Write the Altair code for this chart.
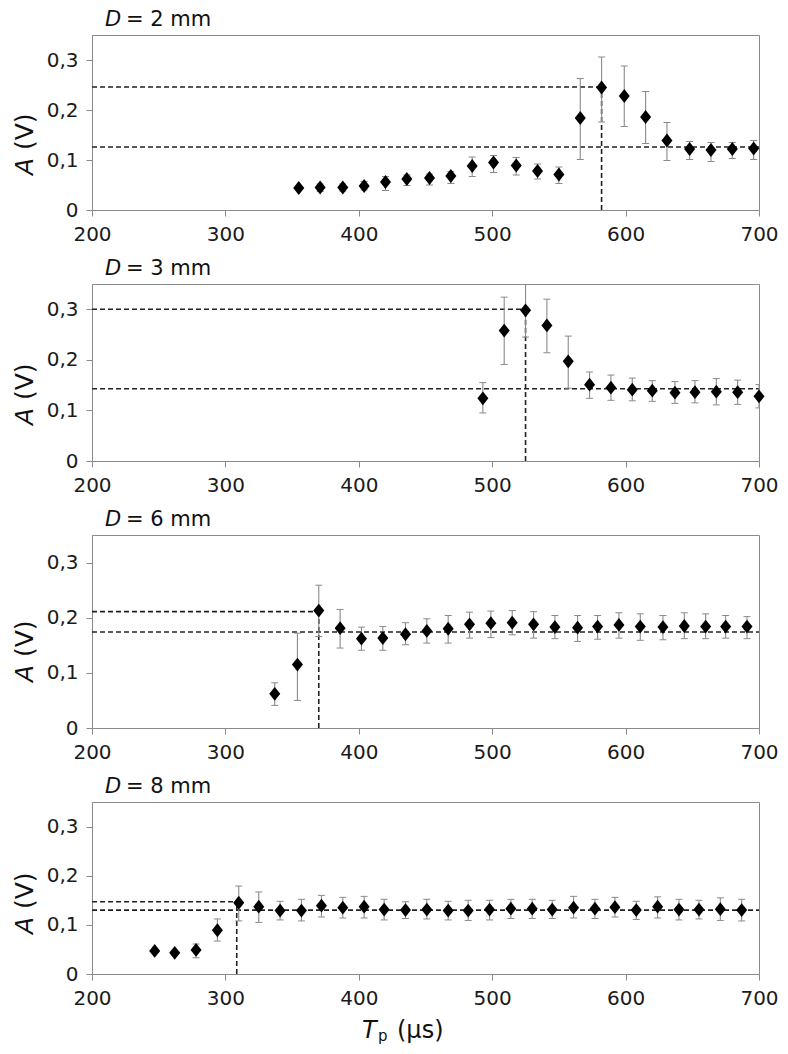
import altair as alt
import pandas as pd

# ---------------- data ----------------
diam_mm = [2, 3, 6, 8]

x1 = [355, 371, 388, 404, 420, 436, 453, 469, 485, 501, 518, 534, 550, 566, 582, 599, 615, 631, 648, 664, 680, 696]
a1 = [0.044, 0.045, 0.045, 0.048, 0.056, 0.062, 0.064, 0.068, 0.088, 0.095, 0.089, 0.078, 0.071, 0.184, 0.245, 0.228, 0.186, 0.139, 0.122, 0.120, 0.122, 0.123]
lo1 = [0.040, 0.037, 0.038, 0.040, 0.039, 0.049, 0.050, 0.053, 0.067, 0.075, 0.070, 0.062, 0.053, 0.101, 0.176, 0.167, 0.133, 0.099, 0.101, 0.097, 0.103, 0.101]
hi1 = [0.048, 0.052, 0.052, 0.057, 0.067, 0.070, 0.072, 0.077, 0.106, 0.109, 0.105, 0.092, 0.086, 0.263, 0.306, 0.288, 0.237, 0.175, 0.137, 0.135, 0.135, 0.139]

x2 = [493, 509, 525, 541, 557, 573, 589, 605, 620, 637, 652, 668, 684, 700]
a2 = [0.124, 0.258, 0.298, 0.268, 0.197, 0.151, 0.145, 0.141, 0.139, 0.135, 0.136, 0.137, 0.136, 0.128]
lo2 = [0.095, 0.191, 0.245, 0.214, 0.144, 0.124, 0.120, 0.119, 0.118, 0.114, 0.115, 0.111, 0.112, 0.105]
hi2 = [0.155, 0.324, 0.370, 0.320, 0.247, 0.176, 0.170, 0.164, 0.159, 0.157, 0.159, 0.163, 0.160, 0.151]

x3 = [337, 354, 370, 386, 402, 418, 435, 451, 467, 483, 499, 515, 531, 547, 564, 579, 595, 611, 628, 644, 660, 675, 691]
a3 = [0.062, 0.115, 0.213, 0.181, 0.162, 0.163, 0.170, 0.176, 0.180, 0.188, 0.190, 0.191, 0.188, 0.183, 0.182, 0.184, 0.187, 0.184, 0.183, 0.185, 0.184, 0.184, 0.184]
lo3 = [0.041, 0.050, 0.166, 0.145, 0.141, 0.141, 0.151, 0.154, 0.154, 0.163, 0.164, 0.169, 0.163, 0.162, 0.157, 0.161, 0.163, 0.159, 0.160, 0.162, 0.162, 0.163, 0.162]
hi3 = [0.082, 0.172, 0.259, 0.215, 0.183, 0.184, 0.191, 0.198, 0.204, 0.210, 0.212, 0.213, 0.211, 0.204, 0.204, 0.204, 0.209, 0.207, 0.204, 0.209, 0.207, 0.204, 0.202]

x4 = [247, 262, 278, 294, 310, 325, 341, 357, 372, 388, 404, 419, 435, 451, 467, 482, 498, 514, 530, 545, 561, 577, 592, 608, 624, 640, 655, 671, 687]
a4 = [0.047, 0.043, 0.049, 0.089, 0.145, 0.137, 0.129, 0.129, 0.139, 0.135, 0.137, 0.131, 0.130, 0.131, 0.129, 0.129, 0.131, 0.133, 0.133, 0.131, 0.135, 0.133, 0.136, 0.130, 0.137, 0.131, 0.131, 0.132, 0.130]
lo4 = [0.043, 0.039, 0.033, 0.067, 0.108, 0.105, 0.110, 0.108, 0.116, 0.114, 0.114, 0.110, 0.113, 0.112, 0.110, 0.109, 0.110, 0.113, 0.113, 0.113, 0.114, 0.113, 0.116, 0.111, 0.114, 0.110, 0.112, 0.109, 0.108]
hi4 = [0.051, 0.047, 0.061, 0.112, 0.179, 0.167, 0.148, 0.152, 0.160, 0.156, 0.158, 0.152, 0.147, 0.152, 0.148, 0.150, 0.150, 0.152, 0.152, 0.150, 0.158, 0.152, 0.156, 0.148, 0.157, 0.152, 0.150, 0.155, 0.152]

# guide lines: x of peak, A of peak, plateau level
peak_x = [582, 525, 370, 308.5]
peak_a = [0.246, 0.300, 0.211, 0.147]
plateau = [0.126, 0.143, 0.174, 0.130]

x_ticks = [200, 300, 400, 500, 600, 700]
y_ticks = [0, 0.1, 0.2, 0.3]

# ---------------- style ----------------
FONT = "DejaVu Sans"
GRAY = "#8a8a8a"
DIAMOND = "M-0.8,0L0,-1L0.8,0L0,1Z"

widths = [667, 667, 667, 667]
heights = [175, 177, 193, 172]
ytitle_pos = [140, 141, 147, 132]


def panel(i, x, a, lo, hi, last=False):
    w, h = widths[i], heights[i]
    df = pd.DataFrame({"x": x, "a": a, "lo": lo, "hi": hi})
    xs = alt.Scale(domain=[200, 700], nice=False, zero=False)
    ys = alt.Scale(domain=[0, 0.35], nice=False)
    xax = alt.Axis(values=x_ticks, title=None, grid=False, labelFlush=False,
                   labelOverlap=False, format="d")
    yax = alt.Axis(values=y_ticks, title=None, grid=False, labelFlush=False,
                   labelOverlap=False,
                   labelExpr="datum.value == 0 ? '0' : replace(format(datum.value, '.1f'), '.', ',')")

    base = alt.Chart(df)
    stems = base.mark_rule(color=GRAY, strokeWidth=1.1, clip=True).encode(
        x=alt.X("x:Q", scale=xs, axis=xax),
        y=alt.Y("lo:Q", scale=ys, axis=yax),
        y2="hi:Q",
    )
    cap_hi = base.mark_tick(orient="horizontal", size=7, thickness=1, color=GRAY,
                            clip=True, opacity=1).encode(x="x:Q", y="hi:Q")
    cap_lo = base.mark_tick(orient="horizontal", size=7, thickness=1, color=GRAY,
                            clip=True, opacity=1).encode(x="x:Q", y="lo:Q")
    pts = base.mark_point(shape=DIAMOND, filled=True, color="black", size=190,
                          opacity=1, strokeWidth=0).encode(x="x:Q", y="a:Q")

    hdf = pd.DataFrame({"x1": [200, 200], "x2": [peak_x[i], 700],
                        "y": [peak_a[i], plateau[i]]})
    hl = alt.Chart(hdf).mark_rule(strokeDash=[5, 3], strokeWidth=1.6, color="#222").encode(
        x="x1:Q", x2="x2:Q", y="y:Q")
    vdf = pd.DataFrame({"x": [peak_x[i]], "y1": [0], "y2": [peak_a[i]]})
    vl = alt.Chart(vdf).mark_rule(strokeDash=[5, 3], strokeWidth=1.6, color="#222").encode(
        x="x:Q", y="y1:Q", y2="y2:Q")

    tdf = pd.DataFrame({"d": ["D"], "rest": [f"= {diam_mm[i]} mm"]})
    t1 = alt.Chart(tdf).mark_text(font=FONT, fontSize=21, fontStyle="italic",
                                  align="left", baseline="alphabetic", color="#111").encode(
        text="d:N", x=alt.value(13), y=alt.value(-9))
    t2 = alt.Chart(tdf).mark_text(font=FONT, fontSize=21, align="left",
                                  baseline="alphabetic", color="#111").encode(
        text="rest:N", x=alt.value(34), y=alt.value(-9))

    ydf = pd.DataFrame({"a": ["A"], "v": ["(V)"]})
    ya = alt.Chart(ydf).mark_text(font=FONT, fontSize=25, fontStyle="italic", angle=270,
                                  align="left", baseline="alphabetic", color="#111").encode(
        text="a:N", x=alt.value(-59), y=alt.value(ytitle_pos[i]))
    yv = alt.Chart(ydf).mark_text(font=FONT, fontSize=25, angle=270,
                                  align="left", baseline="alphabetic", color="#111").encode(
        text="v:N", x=alt.value(-59), y=alt.value(ytitle_pos[i] - 25))

    layers = [hl, vl, stems, cap_hi, cap_lo, pts, t1, t2, ya, yv]
    if last:
        xdf = pd.DataFrame({"t": ["T"], "p": ["p"], "u": ["(µs)"]})
        xt = alt.Chart(xdf).mark_text(font=FONT, fontSize=24, fontStyle="italic",
                                      align="left", baseline="alphabetic", color="#111").encode(
            text="t:N", x=alt.value(270), y=alt.value(h + 64))
        xp = alt.Chart(xdf).mark_text(font=FONT, fontSize=15, align="left",
                                      baseline="alphabetic", color="#111").encode(
            text="p:N", x=alt.value(286), y=alt.value(h + 67))
        xu = alt.Chart(xdf).mark_text(font=FONT, fontSize=24, align="left",
                                      baseline="alphabetic", color="#111").encode(
            text="u:N", x=alt.value(305), y=alt.value(h + 64))
        layers += [xt, xp, xu]
    return alt.layer(*layers).properties(width=w, height=h)


p1 = panel(0, x1, a1, lo1, hi1)
p2 = panel(1, x2, a2, lo2, hi2)
p3 = panel(2, x3, a3, lo3, hi3)
p4 = panel(3, x4, a4, lo4, hi4, last=True)

chart = alt.vconcat(p1, p2, p3, p4, spacing=74, bounds="flush").properties(
    padding={"left": 4, "top": 0, "right": 0, "bottom": 0}
).configure_view(
    stroke=GRAY, strokeWidth=1
).configure_axis(
    domainColor=GRAY, tickColor=GRAY, tickSize=6, labelFont=FONT, labelFontSize=20,
    labelColor="#1a1a1a", labelPadding=8, domainWidth=1, tickWidth=1
)

chart.save("out.html", embed_options={"renderer": "svg", "actions": False})
